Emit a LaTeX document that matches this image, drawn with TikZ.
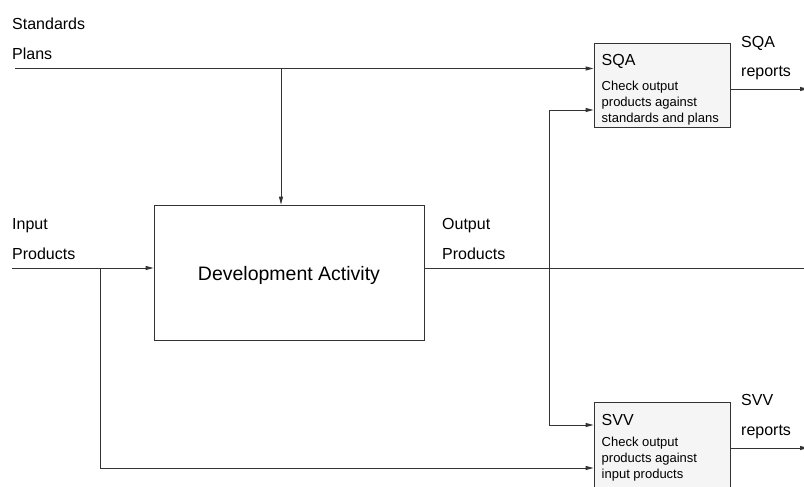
\documentclass[tikz,border=0pt]{standalone}
\usepackage{fontspec}
\setmainfont{Liberation Sans}
\usetikzlibrary{arrows.meta}
\definecolor{boxfill}{HTML}{F5F5F5}
\definecolor{wire}{HTML}{333333}
\begin{document}
\begin{tikzpicture}[x=1pt,y=-1pt,
  plain/.style={draw=wire,line width=0.9pt},
  flow/.style={plain,-{Triangle[length=8pt,width=4pt]}},
  unit/.style={draw=wire,fill=boxfill,line width=0.9pt},
  tag/.style={anchor=base west,inner sep=0pt,font=\fontsize{16}{19}\selectfont},
  note/.style={anchor=north west,inner sep=0pt,align=left,font=\fontsize{13}{16}\selectfont}]
  \useasboundingbox (0,0) rectangle (804,487);

  % activity and the two checks
  \node[unit,fill=white,minimum width=270pt,minimum height=135pt] (dev) at (289,272.5) {};
  \node[anchor=base,inner sep=0pt,font=\fontsize{19.5}{23}\selectfont] (devtext) at (289,280.5) {Development Activity};
  \node[unit,minimum width=136pt,minimum height=84pt] (sqa) at (662,85) {};
  \node[tag] (sqatitle) at (601.5,66) {SQA};
  \node[note] (sqanote) at (601.5,80.5) {Check output\\products against\\standards and plans};
  \node[unit,minimum width=136pt,minimum height=100pt] (svv) at (662,452) {};
  \node[tag] (svvtitle) at (601.5,425) {SVV};
  \node[note] (svvnote) at (601.5,436.5) {Check output\\products against\\input products};

  % flow labels
  \node[tag] (stdlab) at (12,30) {Standards};
  \node[tag] (planlab) at (12,60) {Plans};
  \node[tag] (inlab) at (12,229) {Input};
  \node[tag] (inlab2) at (12,259) {Products};
  \node[tag] (outlab) at (442,229) {Output};
  \node[tag] (outlab2) at (442,259) {Products};
  \node[tag] (sqalab) at (741,48) {SQA};
  \node[tag] (sqalab2) at (741,77) {reports};
  \node[tag] (svvlab) at (741,405) {SVV};
  \node[tag] (svvlab2) at (741,435) {reports};

  % ends and forks of the flows
  \coordinate (std) at (15,68.5);
  \coordinate (stdfork) at (281,68.5);
  \coordinate (inp) at (12,268);
  \coordinate (inpfork) at (100,268);
  \coordinate (outfork) at (549,268);
  \coordinate (outend) at (804,268);
  \coordinate (sqaend) at (808,89);
  \coordinate (svvend) at (808,448);

  \draw[flow] (std) -- (std -| sqa.west);
  \draw[flow] (stdfork) -- (stdfork |- dev.north);
  \draw[flow] (inp) -- (inp -| dev.west);
  \draw[flow] (inpfork) |- (svv.west |- 0,468);
  \draw[plain] (dev.east |- outend) -- (outend);
  \draw[flow] (outfork) |- (sqa.west |- 0,110);
  \draw[flow] (outfork) |- (svv.west |- 0,425);
  \draw[flow] (sqa.east |- sqaend) -- (sqaend);
  \draw[flow] (svv.east |- svvend) -- (svvend);
\end{tikzpicture}
\end{document}
